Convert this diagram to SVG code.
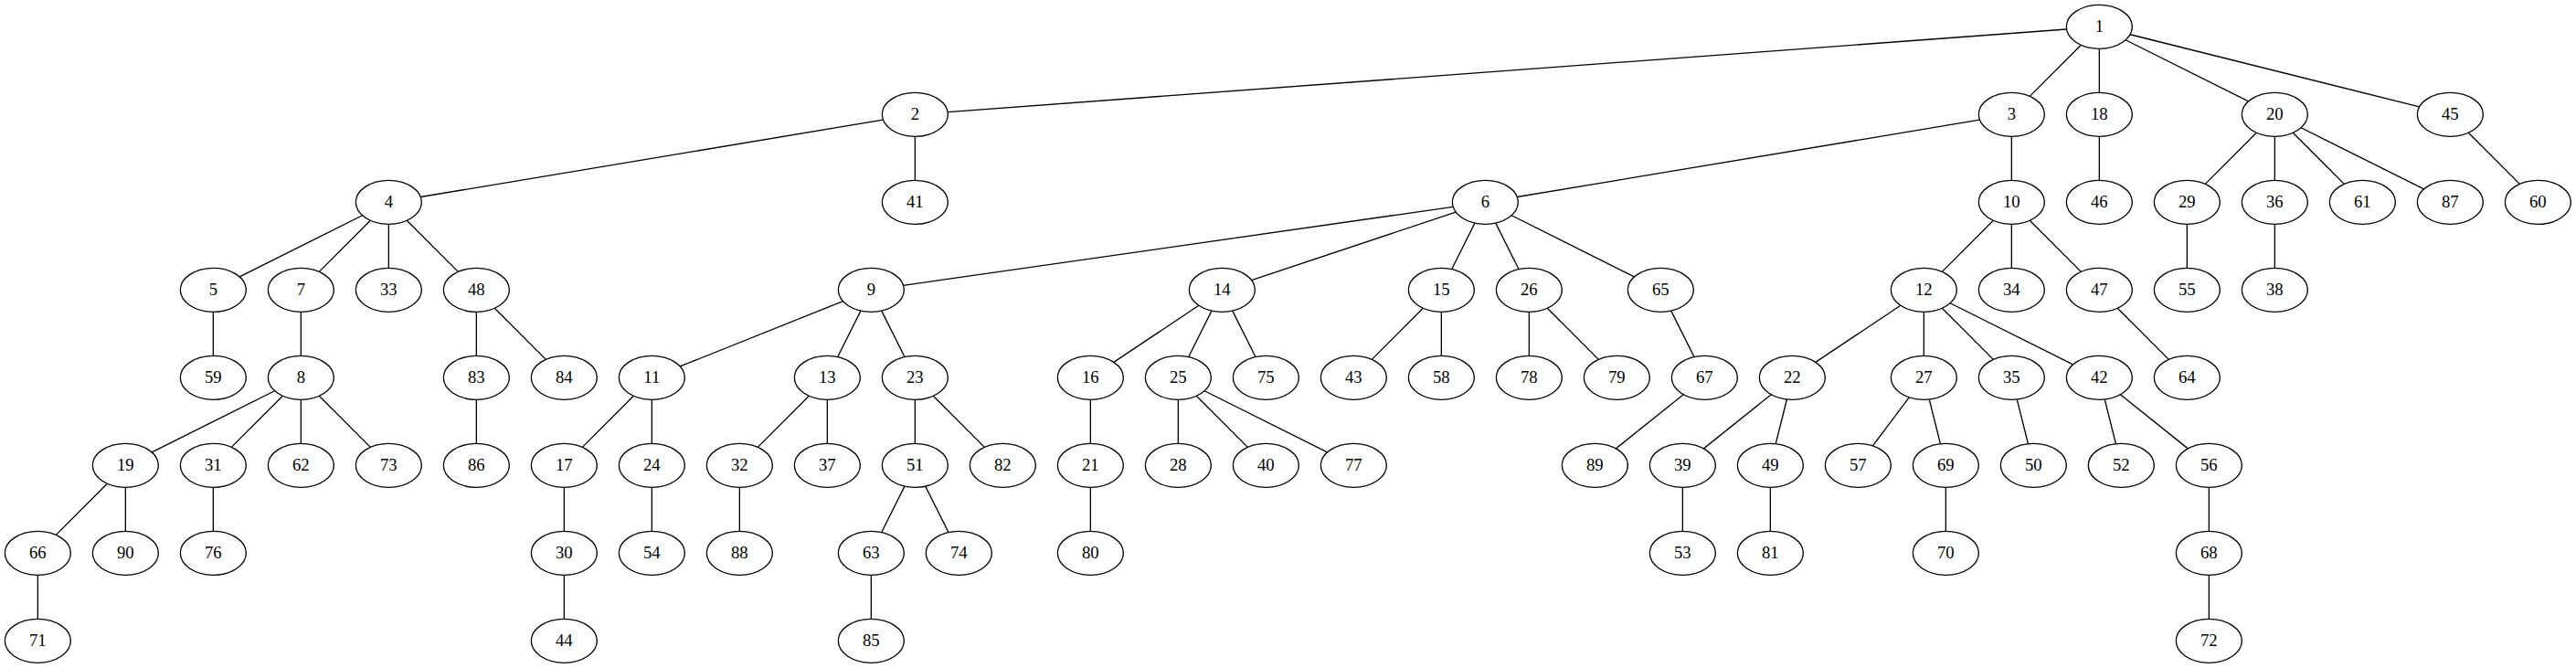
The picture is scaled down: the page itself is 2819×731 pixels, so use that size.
<svg xmlns="http://www.w3.org/2000/svg" width="2819" height="731" viewBox="0 0 2819 731">
<style>
.node ellipse{fill:#fff;stroke:#000;stroke-width:1.33}
.node text{font-family:"Liberation Serif","Times New Roman",serif;font-size:18.67px;text-anchor:middle;fill:#000}
#edges line{stroke:#000;stroke-width:1.33}
</style>
<rect width="2819" height="731" fill="#fff"/>
<g transform="translate(41.333 29.333)">
<g id="edges">
<line x1="2220.22" y1="2.65" x2="995.78" y2="93.35"/>
<line x1="2236.03" y1="19.97" x2="2179.97" y2="76.03"/>
<line x1="2256" y1="24" x2="2256" y2="72"/>
<line x1="2284.8" y1="14.4" x2="2419.2" y2="81.6"/>
<line x1="2289.72" y1="8.43" x2="2606.28" y2="87.57"/>
<line x1="925.07" y1="101.82" x2="418.93" y2="186.18"/>
<line x1="960" y1="120" x2="960" y2="168"/>
<line x1="2125.07" y1="101.82" x2="1618.93" y2="186.18"/>
<line x1="2160" y1="120" x2="2160" y2="168"/>
<line x1="2256" y1="120" x2="2256" y2="168"/>
<line x1="2428.03" y1="115.97" x2="2371.97" y2="172.03"/>
<line x1="2448" y1="120" x2="2448" y2="168"/>
<line x1="2467.97" y1="115.97" x2="2524.03" y2="172.03"/>
<line x1="2476.8" y1="110.4" x2="2611.2" y2="177.6"/>
<line x1="2659.97" y1="115.97" x2="2716.03" y2="172.03"/>
<line x1="355.2" y1="206.4" x2="220.8" y2="273.6"/>
<line x1="364.03" y1="211.97" x2="307.97" y2="268.03"/>
<line x1="384" y1="216" x2="384" y2="264"/>
<line x1="403.97" y1="211.97" x2="460.03" y2="268.03"/>
<line x1="1548.8" y1="197.03" x2="947.2" y2="282.97"/>
<line x1="1551.8" y1="202.73" x2="1328.2" y2="277.27"/>
<line x1="1572.62" y1="214.77" x2="1547.38" y2="265.23"/>
<line x1="1595.38" y1="214.77" x2="1620.62" y2="265.23"/>
<line x1="1612.8" y1="206.4" x2="1747.2" y2="273.6"/>
<line x1="2140.03" y1="211.97" x2="2083.97" y2="268.03"/>
<line x1="2160" y1="216" x2="2160" y2="264"/>
<line x1="2179.97" y1="211.97" x2="2236.03" y2="268.03"/>
<line x1="2352" y1="216" x2="2352" y2="264"/>
<line x1="2448" y1="216" x2="2448" y2="264"/>
<line x1="192" y1="312" x2="192" y2="360"/>
<line x1="288" y1="312" x2="288" y2="360"/>
<line x1="480" y1="312" x2="480" y2="360"/>
<line x1="499.97" y1="307.97" x2="556.03" y2="364.03"/>
<line x1="881.13" y1="300.35" x2="702.87" y2="371.65"/>
<line x1="900.62" y1="310.77" x2="875.38" y2="361.23"/>
<line x1="923.38" y1="310.77" x2="948.62" y2="361.23"/>
<line x1="1270.54" y1="304.97" x2="1177.46" y2="367.03"/>
<line x1="1284.62" y1="310.77" x2="1259.38" y2="361.23"/>
<line x1="1307.38" y1="310.77" x2="1332.62" y2="361.23"/>
<line x1="1516.03" y1="307.97" x2="1459.97" y2="364.03"/>
<line x1="1536" y1="312" x2="1536" y2="360"/>
<line x1="1632" y1="312" x2="1632" y2="360"/>
<line x1="1651.97" y1="307.97" x2="1708.03" y2="364.03"/>
<line x1="1787.38" y1="310.77" x2="1812.62" y2="361.23"/>
<line x1="2038.54" y1="304.97" x2="1945.46" y2="367.03"/>
<line x1="2064" y1="312" x2="2064" y2="360"/>
<line x1="2083.97" y1="307.97" x2="2140.03" y2="364.03"/>
<line x1="2092.8" y1="302.4" x2="2227.2" y2="369.6"/>
<line x1="2275.97" y1="307.97" x2="2332.03" y2="364.03"/>
<line x1="259.2" y1="398.4" x2="124.8" y2="465.6"/>
<line x1="268.03" y1="403.97" x2="211.97" y2="460.03"/>
<line x1="288" y1="408" x2="288" y2="456"/>
<line x1="307.97" y1="403.97" x2="364.03" y2="460.03"/>
<line x1="480" y1="408" x2="480" y2="456"/>
<line x1="652.03" y1="403.97" x2="595.97" y2="460.03"/>
<line x1="672" y1="408" x2="672" y2="456"/>
<line x1="844.03" y1="403.97" x2="787.97" y2="460.03"/>
<line x1="864" y1="408" x2="864" y2="456"/>
<line x1="960" y1="408" x2="960" y2="456"/>
<line x1="979.97" y1="403.97" x2="1036.03" y2="460.03"/>
<line x1="1152" y1="408" x2="1152" y2="456"/>
<line x1="1248" y1="408" x2="1248" y2="456"/>
<line x1="1267.97" y1="403.97" x2="1324.03" y2="460.03"/>
<line x1="1276.8" y1="398.4" x2="1411.2" y2="465.6"/>
<line x1="1800.95" y1="402.44" x2="1727.05" y2="461.56"/>
<line x1="1896.95" y1="402.44" x2="1823.05" y2="461.56"/>
<line x1="1914.08" y1="407.67" x2="1901.92" y2="456.33"/>
<line x1="2047.9" y1="405.47" x2="2008.1" y2="458.53"/>
<line x1="2069.92" y1="407.67" x2="2082.08" y2="456.33"/>
<line x1="2165.92" y1="407.67" x2="2178.08" y2="456.33"/>
<line x1="2261.92" y1="407.67" x2="2274.08" y2="456.33"/>
<line x1="2279.05" y1="402.44" x2="2352.95" y2="461.56"/>
<line x1="76.03" y1="499.97" x2="19.97" y2="556.03"/>
<line x1="96" y1="504" x2="96" y2="552"/>
<line x1="192" y1="504" x2="192" y2="552"/>
<line x1="576" y1="504" x2="576" y2="552"/>
<line x1="672" y1="504" x2="672" y2="552"/>
<line x1="768" y1="504" x2="768" y2="552"/>
<line x1="948.62" y1="502.77" x2="923.38" y2="553.23"/>
<line x1="971.38" y1="502.77" x2="996.62" y2="553.23"/>
<line x1="1152" y1="504" x2="1152" y2="552"/>
<line x1="1800" y1="504" x2="1800" y2="552"/>
<line x1="1896" y1="504" x2="1896" y2="552"/>
<line x1="2088" y1="504" x2="2088" y2="552"/>
<line x1="2376" y1="504" x2="2376" y2="552"/>
<line x1="0" y1="600" x2="0" y2="648"/>
<line x1="576" y1="600" x2="576" y2="648"/>
<line x1="912" y1="600" x2="912" y2="648"/>
<line x1="2376" y1="600" x2="2376" y2="648"/>
</g>
<g id="n1" class="node"><ellipse cx="2256" cy="0" rx="36" ry="24"/><text x="2256" y="6">1</text></g>
<g id="n2" class="node"><ellipse cx="960" cy="96" rx="36" ry="24"/><text x="960" y="102">2</text></g>
<g id="n3" class="node"><ellipse cx="2160" cy="96" rx="36" ry="24"/><text x="2160" y="102">3</text></g>
<g id="n18" class="node"><ellipse cx="2256" cy="96" rx="36" ry="24"/><text x="2256" y="102">18</text></g>
<g id="n20" class="node"><ellipse cx="2448" cy="96" rx="36" ry="24"/><text x="2448" y="102">20</text></g>
<g id="n45" class="node"><ellipse cx="2640" cy="96" rx="36" ry="24"/><text x="2640" y="102">45</text></g>
<g id="n4" class="node"><ellipse cx="384" cy="192" rx="36" ry="24"/><text x="384" y="198">4</text></g>
<g id="n41" class="node"><ellipse cx="960" cy="192" rx="36" ry="24"/><text x="960" y="198">41</text></g>
<g id="n6" class="node"><ellipse cx="1584" cy="192" rx="36" ry="24"/><text x="1584" y="198">6</text></g>
<g id="n10" class="node"><ellipse cx="2160" cy="192" rx="36" ry="24"/><text x="2160" y="198">10</text></g>
<g id="n46" class="node"><ellipse cx="2256" cy="192" rx="36" ry="24"/><text x="2256" y="198">46</text></g>
<g id="n29" class="node"><ellipse cx="2352" cy="192" rx="36" ry="24"/><text x="2352" y="198">29</text></g>
<g id="n36" class="node"><ellipse cx="2448" cy="192" rx="36" ry="24"/><text x="2448" y="198">36</text></g>
<g id="n61" class="node"><ellipse cx="2544" cy="192" rx="36" ry="24"/><text x="2544" y="198">61</text></g>
<g id="n87" class="node"><ellipse cx="2640" cy="192" rx="36" ry="24"/><text x="2640" y="198">87</text></g>
<g id="n60" class="node"><ellipse cx="2736" cy="192" rx="36" ry="24"/><text x="2736" y="198">60</text></g>
<g id="n5" class="node"><ellipse cx="192" cy="288" rx="36" ry="24"/><text x="192" y="294">5</text></g>
<g id="n7" class="node"><ellipse cx="288" cy="288" rx="36" ry="24"/><text x="288" y="294">7</text></g>
<g id="n33" class="node"><ellipse cx="384" cy="288" rx="36" ry="24"/><text x="384" y="294">33</text></g>
<g id="n48" class="node"><ellipse cx="480" cy="288" rx="36" ry="24"/><text x="480" y="294">48</text></g>
<g id="n9" class="node"><ellipse cx="912" cy="288" rx="36" ry="24"/><text x="912" y="294">9</text></g>
<g id="n14" class="node"><ellipse cx="1296" cy="288" rx="36" ry="24"/><text x="1296" y="294">14</text></g>
<g id="n15" class="node"><ellipse cx="1536" cy="288" rx="36" ry="24"/><text x="1536" y="294">15</text></g>
<g id="n26" class="node"><ellipse cx="1632" cy="288" rx="36" ry="24"/><text x="1632" y="294">26</text></g>
<g id="n65" class="node"><ellipse cx="1776" cy="288" rx="36" ry="24"/><text x="1776" y="294">65</text></g>
<g id="n12" class="node"><ellipse cx="2064" cy="288" rx="36" ry="24"/><text x="2064" y="294">12</text></g>
<g id="n34" class="node"><ellipse cx="2160" cy="288" rx="36" ry="24"/><text x="2160" y="294">34</text></g>
<g id="n47" class="node"><ellipse cx="2256" cy="288" rx="36" ry="24"/><text x="2256" y="294">47</text></g>
<g id="n55" class="node"><ellipse cx="2352" cy="288" rx="36" ry="24"/><text x="2352" y="294">55</text></g>
<g id="n38" class="node"><ellipse cx="2448" cy="288" rx="36" ry="24"/><text x="2448" y="294">38</text></g>
<g id="n59" class="node"><ellipse cx="192" cy="384" rx="36" ry="24"/><text x="192" y="390">59</text></g>
<g id="n8" class="node"><ellipse cx="288" cy="384" rx="36" ry="24"/><text x="288" y="390">8</text></g>
<g id="n83" class="node"><ellipse cx="480" cy="384" rx="36" ry="24"/><text x="480" y="390">83</text></g>
<g id="n84" class="node"><ellipse cx="576" cy="384" rx="36" ry="24"/><text x="576" y="390">84</text></g>
<g id="n11" class="node"><ellipse cx="672" cy="384" rx="36" ry="24"/><text x="672" y="390">11</text></g>
<g id="n13" class="node"><ellipse cx="864" cy="384" rx="36" ry="24"/><text x="864" y="390">13</text></g>
<g id="n23" class="node"><ellipse cx="960" cy="384" rx="36" ry="24"/><text x="960" y="390">23</text></g>
<g id="n16" class="node"><ellipse cx="1152" cy="384" rx="36" ry="24"/><text x="1152" y="390">16</text></g>
<g id="n25" class="node"><ellipse cx="1248" cy="384" rx="36" ry="24"/><text x="1248" y="390">25</text></g>
<g id="n75" class="node"><ellipse cx="1344" cy="384" rx="36" ry="24"/><text x="1344" y="390">75</text></g>
<g id="n43" class="node"><ellipse cx="1440" cy="384" rx="36" ry="24"/><text x="1440" y="390">43</text></g>
<g id="n58" class="node"><ellipse cx="1536" cy="384" rx="36" ry="24"/><text x="1536" y="390">58</text></g>
<g id="n78" class="node"><ellipse cx="1632" cy="384" rx="36" ry="24"/><text x="1632" y="390">78</text></g>
<g id="n79" class="node"><ellipse cx="1728" cy="384" rx="36" ry="24"/><text x="1728" y="390">79</text></g>
<g id="n67" class="node"><ellipse cx="1824" cy="384" rx="36" ry="24"/><text x="1824" y="390">67</text></g>
<g id="n22" class="node"><ellipse cx="1920" cy="384" rx="36" ry="24"/><text x="1920" y="390">22</text></g>
<g id="n27" class="node"><ellipse cx="2064" cy="384" rx="36" ry="24"/><text x="2064" y="390">27</text></g>
<g id="n35" class="node"><ellipse cx="2160" cy="384" rx="36" ry="24"/><text x="2160" y="390">35</text></g>
<g id="n42" class="node"><ellipse cx="2256" cy="384" rx="36" ry="24"/><text x="2256" y="390">42</text></g>
<g id="n64" class="node"><ellipse cx="2352" cy="384" rx="36" ry="24"/><text x="2352" y="390">64</text></g>
<g id="n19" class="node"><ellipse cx="96" cy="480" rx="36" ry="24"/><text x="96" y="486">19</text></g>
<g id="n31" class="node"><ellipse cx="192" cy="480" rx="36" ry="24"/><text x="192" y="486">31</text></g>
<g id="n62" class="node"><ellipse cx="288" cy="480" rx="36" ry="24"/><text x="288" y="486">62</text></g>
<g id="n73" class="node"><ellipse cx="384" cy="480" rx="36" ry="24"/><text x="384" y="486">73</text></g>
<g id="n86" class="node"><ellipse cx="480" cy="480" rx="36" ry="24"/><text x="480" y="486">86</text></g>
<g id="n17" class="node"><ellipse cx="576" cy="480" rx="36" ry="24"/><text x="576" y="486">17</text></g>
<g id="n24" class="node"><ellipse cx="672" cy="480" rx="36" ry="24"/><text x="672" y="486">24</text></g>
<g id="n32" class="node"><ellipse cx="768" cy="480" rx="36" ry="24"/><text x="768" y="486">32</text></g>
<g id="n37" class="node"><ellipse cx="864" cy="480" rx="36" ry="24"/><text x="864" y="486">37</text></g>
<g id="n51" class="node"><ellipse cx="960" cy="480" rx="36" ry="24"/><text x="960" y="486">51</text></g>
<g id="n82" class="node"><ellipse cx="1056" cy="480" rx="36" ry="24"/><text x="1056" y="486">82</text></g>
<g id="n21" class="node"><ellipse cx="1152" cy="480" rx="36" ry="24"/><text x="1152" y="486">21</text></g>
<g id="n28" class="node"><ellipse cx="1248" cy="480" rx="36" ry="24"/><text x="1248" y="486">28</text></g>
<g id="n40" class="node"><ellipse cx="1344" cy="480" rx="36" ry="24"/><text x="1344" y="486">40</text></g>
<g id="n77" class="node"><ellipse cx="1440" cy="480" rx="36" ry="24"/><text x="1440" y="486">77</text></g>
<g id="n89" class="node"><ellipse cx="1704" cy="480" rx="36" ry="24"/><text x="1704" y="486">89</text></g>
<g id="n39" class="node"><ellipse cx="1800" cy="480" rx="36" ry="24"/><text x="1800" y="486">39</text></g>
<g id="n49" class="node"><ellipse cx="1896" cy="480" rx="36" ry="24"/><text x="1896" y="486">49</text></g>
<g id="n57" class="node"><ellipse cx="1992" cy="480" rx="36" ry="24"/><text x="1992" y="486">57</text></g>
<g id="n69" class="node"><ellipse cx="2088" cy="480" rx="36" ry="24"/><text x="2088" y="486">69</text></g>
<g id="n50" class="node"><ellipse cx="2184" cy="480" rx="36" ry="24"/><text x="2184" y="486">50</text></g>
<g id="n52" class="node"><ellipse cx="2280" cy="480" rx="36" ry="24"/><text x="2280" y="486">52</text></g>
<g id="n56" class="node"><ellipse cx="2376" cy="480" rx="36" ry="24"/><text x="2376" y="486">56</text></g>
<g id="n66" class="node"><ellipse cx="0" cy="576" rx="36" ry="24"/><text x="0" y="582">66</text></g>
<g id="n90" class="node"><ellipse cx="96" cy="576" rx="36" ry="24"/><text x="96" y="582">90</text></g>
<g id="n76" class="node"><ellipse cx="192" cy="576" rx="36" ry="24"/><text x="192" y="582">76</text></g>
<g id="n30" class="node"><ellipse cx="576" cy="576" rx="36" ry="24"/><text x="576" y="582">30</text></g>
<g id="n54" class="node"><ellipse cx="672" cy="576" rx="36" ry="24"/><text x="672" y="582">54</text></g>
<g id="n88" class="node"><ellipse cx="768" cy="576" rx="36" ry="24"/><text x="768" y="582">88</text></g>
<g id="n63" class="node"><ellipse cx="912" cy="576" rx="36" ry="24"/><text x="912" y="582">63</text></g>
<g id="n74" class="node"><ellipse cx="1008" cy="576" rx="36" ry="24"/><text x="1008" y="582">74</text></g>
<g id="n80" class="node"><ellipse cx="1152" cy="576" rx="36" ry="24"/><text x="1152" y="582">80</text></g>
<g id="n53" class="node"><ellipse cx="1800" cy="576" rx="36" ry="24"/><text x="1800" y="582">53</text></g>
<g id="n81" class="node"><ellipse cx="1896" cy="576" rx="36" ry="24"/><text x="1896" y="582">81</text></g>
<g id="n70" class="node"><ellipse cx="2088" cy="576" rx="36" ry="24"/><text x="2088" y="582">70</text></g>
<g id="n68" class="node"><ellipse cx="2376" cy="576" rx="36" ry="24"/><text x="2376" y="582">68</text></g>
<g id="n71" class="node"><ellipse cx="0" cy="672" rx="36" ry="24"/><text x="0" y="678">71</text></g>
<g id="n44" class="node"><ellipse cx="576" cy="672" rx="36" ry="24"/><text x="576" y="678">44</text></g>
<g id="n85" class="node"><ellipse cx="912" cy="672" rx="36" ry="24"/><text x="912" y="678">85</text></g>
<g id="n72" class="node"><ellipse cx="2376" cy="672" rx="36" ry="24"/><text x="2376" y="678">72</text></g>
</g>
</svg>
